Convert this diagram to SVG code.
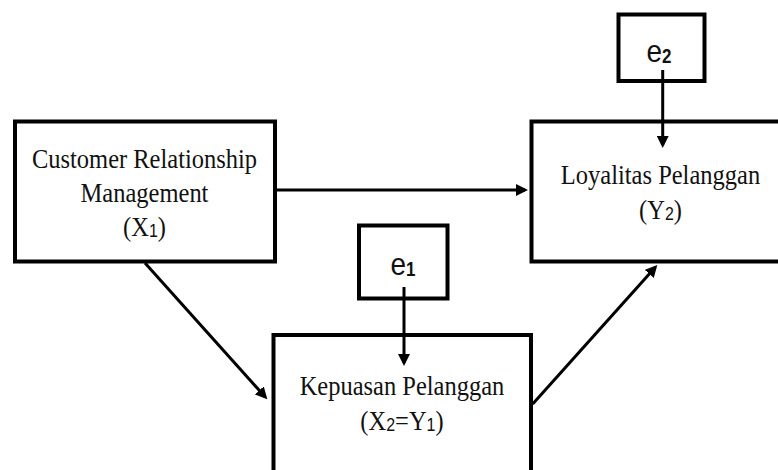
<svg xmlns="http://www.w3.org/2000/svg" width="778" height="470" viewBox="0 0 778 470">
<style>
.box{fill:#fff;stroke:#000;stroke-width:4}
.lbl{font-family:"Liberation Serif","Times New Roman",serif;font-size:24.5px;fill:#111;text-anchor:middle}
.sub{font-family:"Liberation Sans",Arial,sans-serif;font-size:16px}
.err{font-family:"Liberation Sans",Arial,sans-serif;font-size:28px;fill:#111;text-anchor:middle}
.esub{font-family:"Liberation Sans",Arial,sans-serif;font-size:17px;font-weight:bold}
.con{stroke:#000;stroke-width:3;fill:none;marker-end:url(#ah)}
</style>
<defs>
<marker id="ah" markerUnits="userSpaceOnUse" markerWidth="13" markerHeight="12" refX="9" refY="6" orient="auto">
<path d="M0,0 L12,6 L0,12 z" fill="#000"/>
</marker>
</defs>
<rect width="778" height="470" fill="#fff"/>
<g id="crm">
<rect class="box" x="15" y="121.5" width="260" height="140"/>
<text class="lbl" transform="translate(144.5,168) scale(1,1.15)">Customer Relationship</text>
<text class="lbl" transform="translate(144.5,202) scale(1,1.15)">Management</text>
<text class="lbl" transform="translate(144.5,236) scale(1,1.15)">(X<tspan class="sub" dy="1">1</tspan><tspan dy="-1">)</tspan></text>
</g>
<g id="loyalitas">
<rect class="box" x="531.5" y="121.5" width="260" height="140"/>
<text class="lbl" transform="translate(660.5,184) scale(1,1.15)">Loyalitas Pelanggan</text>
<text class="lbl" transform="translate(660.5,219) scale(1,1.15)">(Y<tspan class="sub" dy="1">2</tspan><tspan dy="-1">)</tspan></text>
</g>
<g id="kepuasan">
<rect class="box" x="273.5" y="335" width="257.5" height="160"/>
<text class="lbl" transform="translate(402,395) scale(1,1.15)">Kepuasan Pelanggan</text>
<text class="lbl" transform="translate(402,430) scale(1,1.15)">(X<tspan class="sub" dy="1">2</tspan><tspan dy="-1">=Y</tspan><tspan class="sub" dy="1">1</tspan><tspan dy="-1">)</tspan></text>
</g>
<g id="e1">
<rect class="box" x="359" y="225.5" width="88.5" height="73"/>
<text class="err" transform="translate(403,275) scale(1,1.15)">e<tspan class="esub" dy="1">1</tspan></text>
</g>
<g id="e2">
<rect class="box" x="618.5" y="14.5" width="86" height="66.5"/>
<text class="err" transform="translate(659,62) scale(1,1.15)">e<tspan class="esub" dy="1">2</tspan></text>
</g>
<g id="connectors">
<line class="con" x1="277" y1="190" x2="525" y2="190"/>
<line class="con" x1="662.7" y1="70" x2="662.7" y2="145"/>
<line class="con" x1="404" y1="287" x2="404" y2="363"/>
<line class="con" x1="145" y1="263" x2="265.3" y2="397.1"/>
<line class="con" x1="532.7" y1="404" x2="655.3" y2="267.2"/>
</g>
</svg>
